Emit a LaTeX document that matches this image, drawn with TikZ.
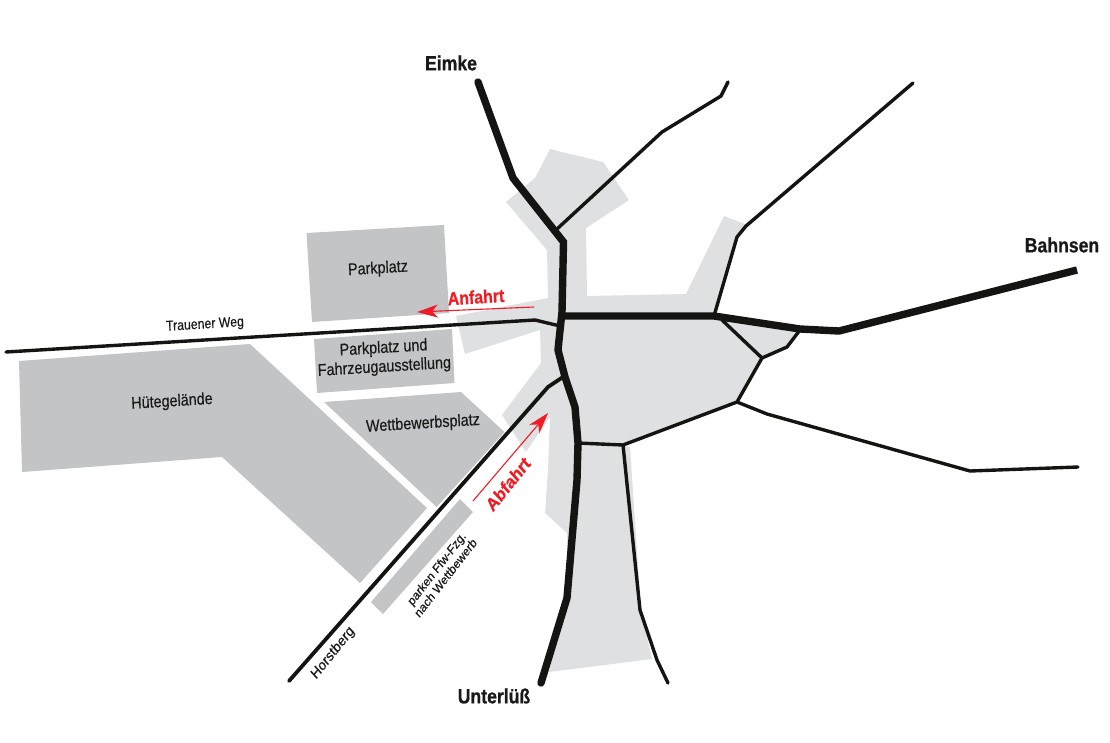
\documentclass[tikz,border=0pt]{standalone}
\usepackage{fontspec}
\setmainfont{Liberation Sans}
\newfontfamily\lblfont[FakeBold=0.35]{Liberation Sans}
\newfontfamily\boldfont[FakeBold=0.7]{Liberation Sans Bold}
\usetikzlibrary{arrows.meta}
\definecolor{lightarea}{HTML}{DFE0E2}
\definecolor{darkarea}{HTML}{C3C4C6}
\definecolor{roadblack}{HTML}{141412}
\definecolor{arrowred}{HTML}{EE1C25}
\tikzset{
  lightfill/.style={fill=lightarea,draw=none},
  darkfill/.style={fill=darkarea,draw=none},
  road/.style={draw=roadblack,line width=3.4pt,line join=round,line cap=round},
  mainroad/.style={draw=roadblack,line width=7.4pt,line join=miter,line cap=round},
  redarrow/.style={draw=arrowred,line width=1.1pt,-{Stealth[length=21pt,width=13pt,inset=6pt]}},
  lbl/.style={inner sep=0pt,transform shape,text=black!90,align=center,font=\lblfont\fontsize{16.7}{19}\selectfont,xscale=.86},
  place/.style={lbl,font=\boldfont\fontsize{20.5}{23}\selectfont},
  redlbl/.style={lbl,text=arrowred,font=\boldfont\fontsize{18.5}{21}\selectfont}
}
\begin{document}
\begin{tikzpicture}[x=1pt,y=-1pt]
\useasboundingbox (0,0) rectangle (1110,742);
% light grey built-up area
\path[lightfill] (550,149) -- (603,162) -- (629,200) -- (586,228) -- (587,296) -- (686,294)
  -- (724,216) -- (745,224) -- (737,237) -- (713,316) -- (800,330) -- (787,347) -- (761,358)
  -- (737,402) -- (623,445) -- (630,447) -- (641,610) -- (652,659) -- (549,672) -- (567,597)
  -- (567,533) -- (545,513) -- (548,470) -- (550,417) -- (526,452) -- (502,415) -- (541,363)
  -- (540,330) -- (465,354) -- (456,316) -- (548,298) -- (547,250) -- (506,202) -- (535,178) -- cycle;
% dark grey plots
\path[darkfill] (306.5,233) -- (444,225) -- (449,313) -- (312,322) -- cycle;
\path[darkfill] (314,339) -- (452,329) -- (454.5,383) -- (317,393) -- cycle;
\path[darkfill] (324,402) -- (461,392) -- (504.5,432) -- (436.6,507) -- cycle;
\path[darkfill] (19,361) -- (250,344) -- (427,508) -- (360,583) -- (222,457) -- (22,472) -- cycle;
\path[darkfill] (460,499) -- (473,512) -- (383,614) -- (371,602) -- cycle;
% thin roads
\draw[road] (6,352) -- (535,320) -- (560,326);
\draw[road,line width=3.8pt] (289,681) -- (548,387) -- (563,377);
\draw[road] (557,229) -- (662,132) -- (721,96) -- (728,82);
\draw[road] (714,316) -- (737,237) -- (746,226) -- (913,83);
\draw[road] (722,320) -- (762,358) -- (787,347) -- (800,330);
\draw[road] (762,358) -- (737,402) -- (623,445) -- (578,443);
\draw[road] (737,402) -- (767,414) -- (970,471) -- (1078,467);
\draw[road] (623,445) -- (640,610) -- (657,660) -- (668,683);
% main roads
\draw[mainroad] (478,82) -- (513,178) -- (563.5,242) -- (562,312) -- (559,340) -- (558,350)
  -- (565,377) -- (575,407) -- (578,443) -- (577,480) -- (567,598) -- (541,683);
\draw[mainroad,line cap=butt] (563,316) -- (714,316) -- (800,329) -- (839,331) -- (1077,270);
% arrows
\coordinate (anfstart) at (534,307);
\coordinate (anfend) at (417,312);
\coordinate (abfstart) at (473,501);
\coordinate (abfend) at (548,413);
\draw[redarrow] (anfstart) -- (anfend);
\draw[redarrow] (abfstart) -- (abfend);
% labels
\node[place] (eimke) at (451,63) {Eimke};
\node[place] (bahnsen) at (1062,245) {Bahnsen};
\node[place] (unterluess) at (494,696) {Unterlüß};
\node[lbl,rotate=3,font=\lblfont\fontsize{14.3}{16}\selectfont] (trauener) at (205,325) {Trauener Weg};
\node[lbl,rotate=3] (parkplatz) at (378,269) {Parkplatz};
\node[lbl,rotate=3] (ausstellung) at (384,358) {Parkplatz und\\Fahrzeugausstellung};
\node[lbl,rotate=3] (huete) at (172,402) {Hütegelände};
\node[lbl,rotate=3] (wettbewerb) at (423,424) {Wettbewerbsplatz};
\node[redlbl,rotate=3] (anfahrt) at (476,297) {Anfahrt};
\node[redlbl,rotate=47] (abfahrt) at (508,484) {Abfahrt};
\node[lbl,rotate=48,font=\lblfont\fontsize{13}{14}\selectfont] (parken) at (441,573) {parken Ffw-Fzg.\\nach Wettbewerb};
\node[lbl,rotate=47,font=\lblfont\fontsize{15}{17}\selectfont] (horstberg) at (333,653) {Horstberg};
\end{tikzpicture}
\end{document}
